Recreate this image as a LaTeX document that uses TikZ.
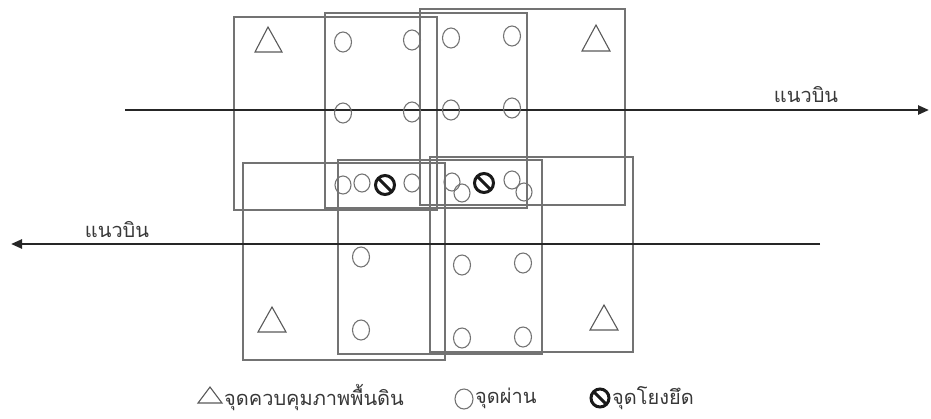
\documentclass[tikz,border=0pt]{standalone}
\usepackage{fontspec}
\newfontfamily\thaifont[Script=Thai]{Loma}
\usetikzlibrary{arrows.meta,shapes.geometric}
\tikzset{
  photo/.style={draw=black!55, line width=1.3pt},
  passpt/.style={ellipse, draw=black!55, line width=1.1pt, minimum width=17pt, minimum height=20pt, inner sep=0pt},
  passsm/.style={ellipse, draw=black!55, line width=1.1pt, minimum width=16pt, minimum height=18pt, inner sep=0pt},
  tiept/.style={circle, draw=black!90, line width=3pt, minimum size=19pt, inner sep=0pt,
     path picture={\draw[black!90, line width=3pt] (path picture bounding box.north west) -- (path picture bounding box.south east);}},
  gcp/.style={draw=black!65, line width=1.1pt},
  flight/.style={draw=black!85, line width=2.4pt, -{Triangle[length=11pt,width=9pt]}},
  lbl/.style={font=\thaifont\fontsize{20}{22}\selectfont, text=black!78, inner sep=0pt}
}
\begin{document}
\begin{tikzpicture}[x=1pt,y=-1pt]
\useasboundingbox (0,0) rectangle (931,418);
% photo frames, upper strip
\draw[photo] (234,17) rectangle (437,210);
\draw[photo] (325,13) rectangle (527,208);
\draw[photo] (420,9) rectangle (625,205);
% photo frames, lower strip
\draw[photo] (243,163) rectangle (445,360);
\draw[photo] (338,160) rectangle (542,354);
\draw[photo] (430,157) rectangle (633,352);
% flight lines
\coordinate (f1s) at (125,110);
\coordinate (f1e) at (929,110);
\coordinate (f2s) at (820,244);
\coordinate (f2e) at (11,244);
\draw[flight] (f1s) -- (f1e);
\draw[flight] (f2s) -- (f2e);
\node[lbl] (l1) at (806,95) {แนวบิน};
\node[lbl] (l2) at (117,230) {แนวบิน};
% ground control points
\draw[gcp] (255,52) -- (268,27) -- (282,52) -- cycle;
\draw[gcp] (582,51) -- (596,25) -- (610,51) -- cycle;
\draw[gcp] (258,332) -- (272,307) -- (286,332) -- cycle;
\draw[gcp] (590,330) -- (604,305) -- (618,330) -- cycle;
% pass points upper
\node[passpt] (p1) at (343,42) {};
\node[passpt] (p2) at (412,40) {};
\node[passpt] (p3) at (451,38) {};
\node[passpt] (p4) at (512,36) {};
\node[passpt] (p5) at (343,113) {};
\node[passpt] (p6) at (412,112) {};
\node[passpt] (p7) at (451,110) {};
\node[passpt] (p8) at (512,108) {};
% overlap strip
\node[passsm] (s1) at (343,185) {};
\node[passsm] (s2) at (362,183) {};
\node[passsm] (s3) at (412,183) {};
\node[passsm] (s4) at (452,182) {};
\node[passsm] (s5) at (462,193) {};
\node[passsm] (s6) at (512,180) {};
\node[passsm] (s7) at (524,192) {};
\node[tiept] (t1) at (385,185) {};
\node[tiept] (t2) at (484,183) {};
% pass points lower
\node[passpt] (q1) at (361,257) {};
\node[passpt] (q2) at (361,330) {};
\node[passpt] (q3) at (462,265) {};
\node[passpt] (q4) at (523,263) {};
\node[passpt] (q5) at (462,338) {};
\node[passpt] (q6) at (523,337) {};
% legend
\draw[gcp] (198,403) -- (210,387) -- (222,403) -- cycle;
\node[lbl, anchor=west] (lg1) at (224,398) {จุดควบคุมภาพพื้นดิน};
\node[passsm, minimum width=18pt, minimum height=20pt] (lgc) at (464,399) {};
\node[lbl, anchor=west] (lg2) at (475,398) {จุดผ่าน};
\node[tiept, minimum size=18pt] (lgt) at (600,398) {};
\node[lbl, anchor=west] (lg3) at (612,398) {จุดโยงยึด};
\end{tikzpicture}
\end{document}
